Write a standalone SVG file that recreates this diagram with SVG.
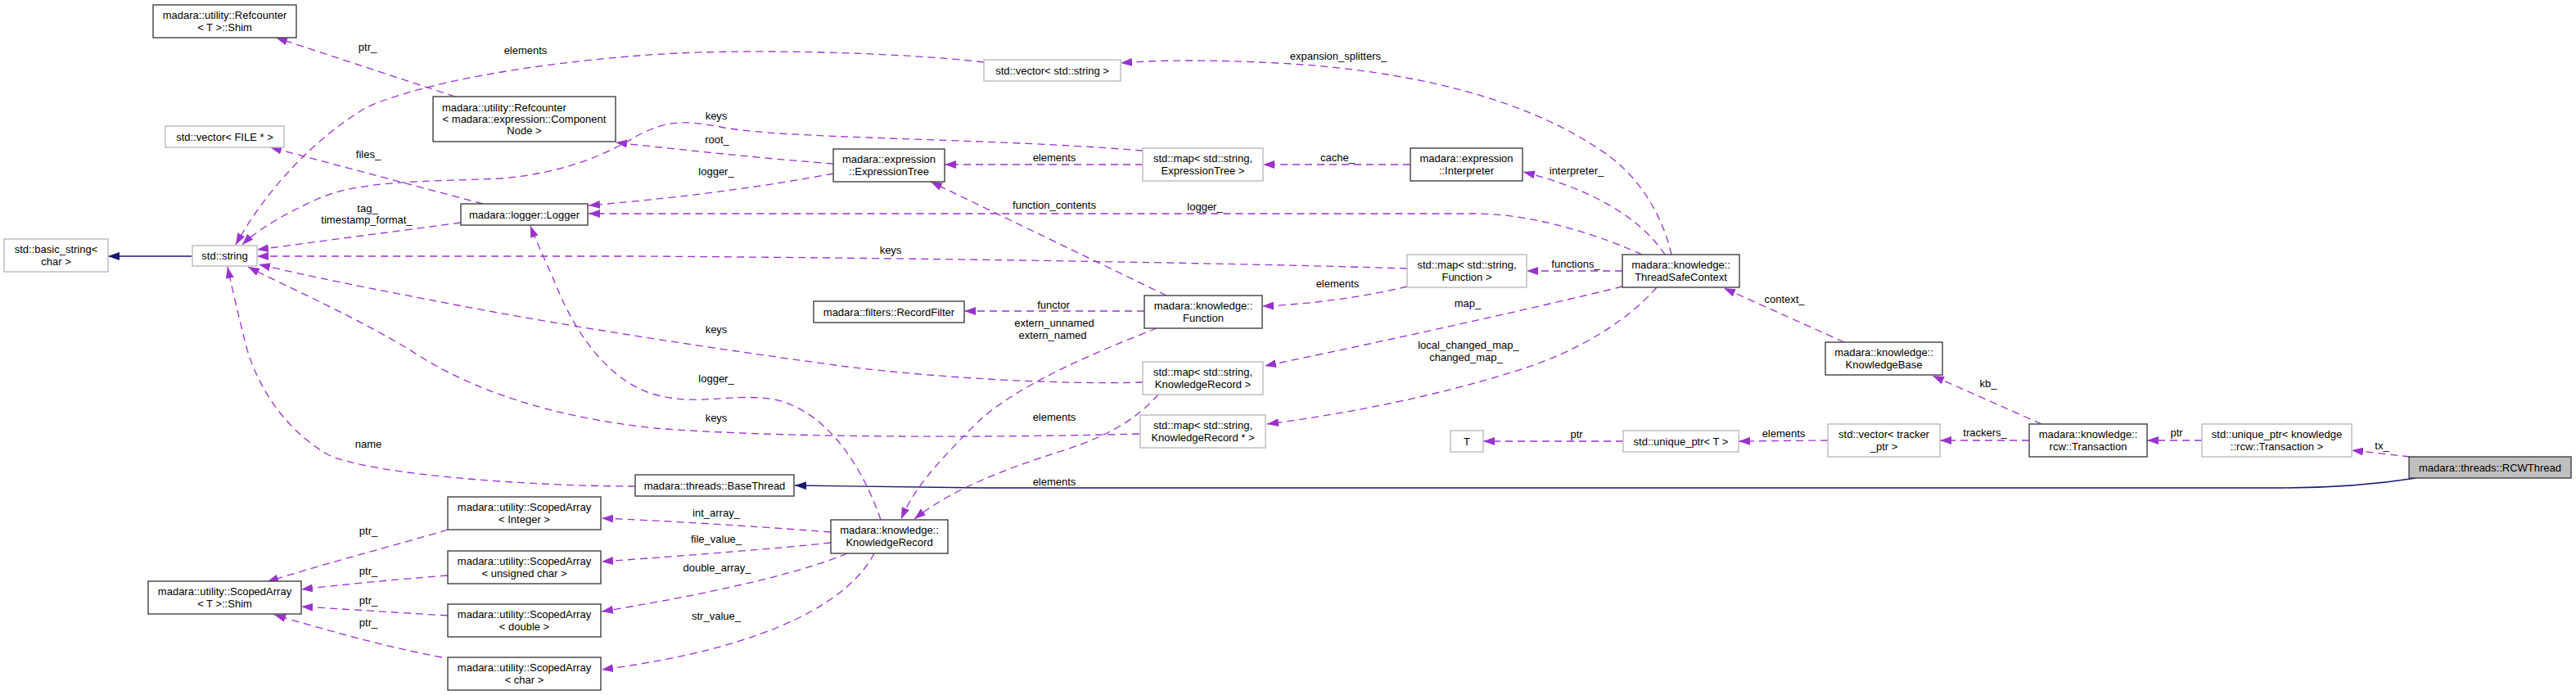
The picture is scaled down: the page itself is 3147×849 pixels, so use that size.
<svg xmlns="http://www.w3.org/2000/svg" width="3147" height="849" viewBox="0 0 3147 849">
<style>
text{font-family:"Liberation Sans",Arial,Helvetica,sans-serif;font-size:13px;fill:#000}
.c{text-anchor:middle}
.d rect{fill:#fff;stroke:#404040;stroke-width:1.4}
.u rect{fill:#fff;stroke:#bfbfbf;stroke-width:1.5}
.s rect{fill:#bfbfbf;stroke:#404040;stroke-width:1.4}
.e{fill:none;stroke:#9a32cd;stroke-width:1.3;stroke-dasharray:9,6;marker-end:url(#ah)}
.i{fill:none;stroke:#191970;stroke-width:1.3;marker-end:url(#an)}
</style>
<defs>
<marker id="ah" viewBox="0 0 14 10" refX="14" refY="5" markerWidth="14" markerHeight="10" orient="auto" markerUnits="userSpaceOnUse"><path d="M0,0 L14,5 L0,10 z" fill="#9a32cd" stroke="none"/></marker>
<marker id="an" viewBox="0 0 14 10" refX="14" refY="5" markerWidth="14" markerHeight="10" orient="auto" markerUnits="userSpaceOnUse"><path d="M0,0 L14,5 L0,10 z" fill="#191970" stroke="none"/></marker>
</defs>
<rect width="3147" height="849" fill="#fff"/>
<g id="edges">
<path class="i" d="M234,313 L132,313"/>
<path class="i" d="M2952,584 C2900,592 2850,596 2788,596 L1200,596 L971,593"/>
<path class="e" d="M556,118 L337,46"/>
<path class="e" d="M1202,76 C1100,64 900,58 780,68 C650,78 520,100 450,130 C380,170 320,240 288,299"/>
<path class="e" d="M590,249 L330,180"/>
<path class="e" d="M563,272 L314,305"/>
<path class="e" d="M1018,200 C950,195 850,185 752,174"/>
<path class="e" d="M1018,212 C950,225 850,240 719,251"/>
<path class="e" d="M1396,184 C1200,168 950,170 880,155 C830,145 810,150 780,165 C730,195 680,212 612,218 C520,222 440,220 388,243 C350,260 315,280 296,299"/>
<path class="e" d="M1396,201 L1154,201"/>
<path class="e" d="M1723,201 L1543,201"/>
<path class="e" d="M2042,311 C2030,260 2000,210 1950,180 C1860,120 1720,85 1560,77 C1480,73 1420,73 1369,77"/>
<path class="e" d="M2034,311 C2010,275 1960,235 1861,210"/>
<path class="e" d="M2006,311 C1960,290 1880,262 1805,261 L719,261"/>
<path class="e" d="M1719,328 C1500,321 1100,315 780,313 L314,313"/>
<path class="e" d="M1719,350 C1670,362 1600,372 1542,374"/>
<path class="e" d="M1982,331 L1865,331"/>
<path class="e" d="M1425,361 L1137,222"/>
<path class="e" d="M1398,380 L1178,380"/>
<path class="e" d="M1413,401 C1340,430 1240,470 1190,520 C1140,570 1115,600 1101,634"/>
<path class="e" d="M1396,467 C1300,470 1150,462 1035,448 C900,430 700,400 560,373 C450,352 380,338 316,323"/>
<path class="e" d="M1982,350 C1880,375 1700,415 1545,447"/>
<path class="e" d="M1415,482 C1390,510 1360,530 1300,550 C1220,575 1160,600 1117,634"/>
<path class="e" d="M2024,351 C1990,390 1930,430 1846,455 C1760,482 1650,505 1548,518"/>
<path class="e" d="M1392,530 C1200,535 950,535 800,523 C680,510 580,480 500,427 C430,385 350,350 303,326"/>
<path class="e" d="M1076,635 C1050,560 1000,490 930,486 C880,483 850,495 800,482 C740,465 700,400 680,350 C665,315 655,295 648,276"/>
<path class="e" d="M776,594 C650,594 450,580 400,555 C340,520 310,460 300,420 C290,380 283,350 278,326"/>
<path class="e" d="M1015,650 C950,645 850,638 735,633"/>
<path class="e" d="M1015,663 C950,670 850,678 735,686"/>
<path class="e" d="M1035,676 C990,695 900,720 735,747"/>
<path class="e" d="M1068,676 C1040,730 950,790 735,818"/>
<path class="e" d="M547,647 C470,670 390,690 326,711"/>
<path class="e" d="M547,703 C480,708 420,714 368,720"/>
<path class="e" d="M547,752 C480,748 420,744 368,741"/>
<path class="e" d="M540,803 C470,790 400,770 335,751"/>
<path class="e" d="M2253,418 L2106,352"/>
<path class="e" d="M2494,518 L2361,459"/>
<path class="e" d="M2479,538 L2370,538"/>
<path class="e" d="M2233,538 L2124,539"/>
<path class="e" d="M1983,539 L1812,539"/>
<path class="e" d="M2690,538 L2623,538"/>
<path class="e" d="M2944,558 L2873,550"/>
<g class="c">
<text x="449" y="62">ptr_</text>
<text x="642" y="66">elements</text>
<text x="450" y="193">files_</text>
<text x="449" y="259">tag_</text>
<text x="448" y="273">timestamp_format_</text>
<text x="875" y="146">keys</text>
<text x="876" y="175">root_</text>
<text x="875" y="214">logger_</text>
<text x="1288" y="197">elements</text>
<text x="1634" y="197">cache_</text>
<text x="1635" y="73">expansion_splitters_</text>
<text x="1926" y="213">interpreter_</text>
<text x="1288" y="255">function_contents</text>
<text x="1472" y="257">logger_</text>
<text x="1088" y="310">keys</text>
<text x="1634" y="351">elements</text>
<text x="1925" y="327">functions_</text>
<text x="1287" y="377">functor</text>
<text x="1288" y="399">extern_unnamed</text>
<text x="1286" y="414">extern_named</text>
<text x="875" y="407">keys</text>
<text x="1793" y="375">map_</text>
<text x="1288" y="514">elements</text>
<text x="1794" y="426">local_changed_map_</text>
<text x="1791" y="441">changed_map_</text>
<text x="875" y="515">keys</text>
<text x="875" y="467">logger_</text>
<text x="450" y="547">name</text>
<text x="1288" y="593">elements</text>
<text x="875" y="631">int_array_</text>
<text x="875" y="663">file_value_</text>
<text x="876" y="698">double_array_</text>
<text x="875" y="757">str_value_</text>
<text x="450" y="653">ptr_</text>
<text x="450" y="702">ptr_</text>
<text x="450" y="738">ptr_</text>
<text x="450" y="765">ptr_</text>
<text x="2180" y="370">context_</text>
<text x="2429" y="473">kb_</text>
<text x="2425" y="533">trackers_</text>
<text x="2179" y="534">elements</text>
<text x="1926" y="535">ptr</text>
<text x="2659" y="533">ptr</text>
<text x="2910" y="549">tx_</text>
</g>
</g>
<g id="n_refcounter_shim" class="d"><rect x="187" y="6" width="175" height="40"/><text class="c" x="274.5" y="23">madara::utility::Refcounter</text><text class="c" x="274.5" y="37.5">&lt; T &gt;::Shim</text></g>
<g id="n_vector_file" class="u"><rect x="202" y="154" width="145" height="26"/><text class="c" x="274.5" y="171.5">std::vector&lt; FILE * &gt;</text></g>
<g id="n_refcounter_cn" class="d"><rect x="529" y="118" width="223" height="55"/><text x="540" y="135.5">madara::utility::Refcounter</text><text class="c" x="640.5" y="149.5">&lt; madara::expression::Component</text><text class="c" x="640.5" y="163.5">Node &gt;</text></g>
<g id="n_basic_string" class="u"><rect x="5" y="292" width="127" height="40"/><text class="c" x="68.5" y="309">std::basic_string&lt;</text><text class="c" x="68.5" y="323.5">char &gt;</text></g>
<g id="n_string" class="u"><rect x="235" y="300" width="79" height="25"/><text class="c" x="274.5" y="317">std::string</text></g>
<g id="n_logger" class="d"><rect x="563" y="249" width="155" height="26"/><text class="c" x="640.5" y="266.5">madara::logger::Logger</text></g>
<g id="n_vector_string" class="u"><rect x="1202" y="73" width="167" height="26"/><text class="c" x="1285.5" y="90.5">std::vector&lt; std::string &gt;</text></g>
<g id="n_expressiontree" class="d"><rect x="1018" y="182" width="136" height="40"/><text class="c" x="1086" y="199">madara::expression</text><text class="c" x="1086" y="213.5">::ExpressionTree</text></g>
<g id="n_map_et" class="u"><rect x="1396" y="181" width="147" height="40"/><text class="c" x="1469.5" y="198">std::map&lt; std::string,</text><text class="c" x="1469.5" y="212.5">ExpressionTree &gt;</text></g>
<g id="n_recordfilter" class="d"><rect x="994" y="368" width="184" height="26"/><text class="c" x="1086" y="385.5">madara::filters::RecordFilter</text></g>
<g id="n_function" class="d"><rect x="1398" y="361" width="144" height="40"/><text class="c" x="1470" y="378">madara::knowledge::</text><text class="c" x="1470" y="392.5">Function</text></g>
<g id="n_interpreter" class="d"><rect x="1723" y="181" width="137" height="40"/><text class="c" x="1791.5" y="198">madara::expression</text><text class="c" x="1791.5" y="212.5">::Interpreter</text></g>
<g id="n_map_function" class="u"><rect x="1719" y="311" width="146" height="40"/><text class="c" x="1792" y="328">std::map&lt; std::string,</text><text class="c" x="1792" y="342.5">Function &gt;</text></g>
<g id="n_threadsafecontext" class="d"><rect x="1982" y="311" width="143" height="40"/><text class="c" x="2053.5" y="328">madara::knowledge::</text><text class="c" x="2053.5" y="342.5">ThreadSafeContext</text></g>
<g id="n_knowledgebase" class="d"><rect x="2230" y="418" width="143" height="40"/><text class="c" x="2301.5" y="435">madara::knowledge::</text><text class="c" x="2301.5" y="449.5">KnowledgeBase</text></g>
<g id="n_map_kr" class="u"><rect x="1396" y="442" width="147" height="40"/><text class="c" x="1469.5" y="459">std::map&lt; std::string,</text><text class="c" x="1469.5" y="473.5">KnowledgeRecord &gt;</text></g>
<g id="n_map_krp" class="u"><rect x="1393" y="507" width="153" height="40"/><text class="c" x="1469.5" y="524">std::map&lt; std::string,</text><text class="c" x="1469.5" y="538.5">KnowledgeRecord * &gt;</text></g>
<g id="n_basethread" class="d"><rect x="776" y="580" width="194" height="26"/><text class="c" x="873" y="597.5">madara::threads::BaseThread</text></g>
<g id="n_knowledgerecord" class="d"><rect x="1015" y="635" width="143" height="41"/><text class="c" x="1086.5" y="652">madara::knowledge::</text><text class="c" x="1086.5" y="666.5">KnowledgeRecord</text></g>
<g id="n_sa_integer" class="d"><rect x="547" y="607" width="187" height="40"/><text class="c" x="640.5" y="624">madara::utility::ScopedArray</text><text class="c" x="640.5" y="638.5">&lt; Integer &gt;</text></g>
<g id="n_sa_uchar" class="d"><rect x="547" y="673" width="187" height="40"/><text class="c" x="640.5" y="690">madara::utility::ScopedArray</text><text class="c" x="640.5" y="704.5">&lt; unsigned char &gt;</text></g>
<g id="n_sa_shim" class="d"><rect x="181" y="710" width="187" height="40"/><text class="c" x="274.5" y="727">madara::utility::ScopedArray</text><text class="c" x="274.5" y="741.5">&lt; T &gt;::Shim</text></g>
<g id="n_sa_double" class="d"><rect x="547" y="738" width="187" height="40"/><text class="c" x="640.5" y="755">madara::utility::ScopedArray</text><text class="c" x="640.5" y="769.5">&lt; double &gt;</text></g>
<g id="n_sa_char" class="d"><rect x="547" y="803" width="187" height="40"/><text class="c" x="640.5" y="820">madara::utility::ScopedArray</text><text class="c" x="640.5" y="834.5">&lt; char &gt;</text></g>
<g id="n_t" class="u"><rect x="1772" y="526" width="40" height="26"/><text class="c" x="1792" y="543.5">T</text></g>
<g id="n_unique_t" class="u"><rect x="1983" y="526" width="141" height="26"/><text class="c" x="2053.5" y="543.5">std::unique_ptr&lt; T &gt;</text></g>
<g id="n_vector_tracker" class="u"><rect x="2233" y="518" width="137" height="40"/><text class="c" x="2301.5" y="535">std::vector&lt; tracker</text><text class="c" x="2301.5" y="549.5">_ptr &gt;</text></g>
<g id="n_transaction" class="d"><rect x="2479" y="518" width="144" height="40"/><text class="c" x="2551" y="535">madara::knowledge::</text><text class="c" x="2551" y="549.5">rcw::Transaction</text></g>
<g id="n_unique_tx" class="u"><rect x="2690" y="518" width="183" height="40"/><text class="c" x="2781.5" y="535">std::unique_ptr&lt; knowledge</text><text class="c" x="2781.5" y="549.5">::rcw::Transaction &gt;</text></g>
<g id="n_rcwthread" class="s"><rect x="2943" y="558" width="198" height="26"/><text class="c" x="3042" y="575.5">madara::threads::RCWThread</text></g>
</svg>
